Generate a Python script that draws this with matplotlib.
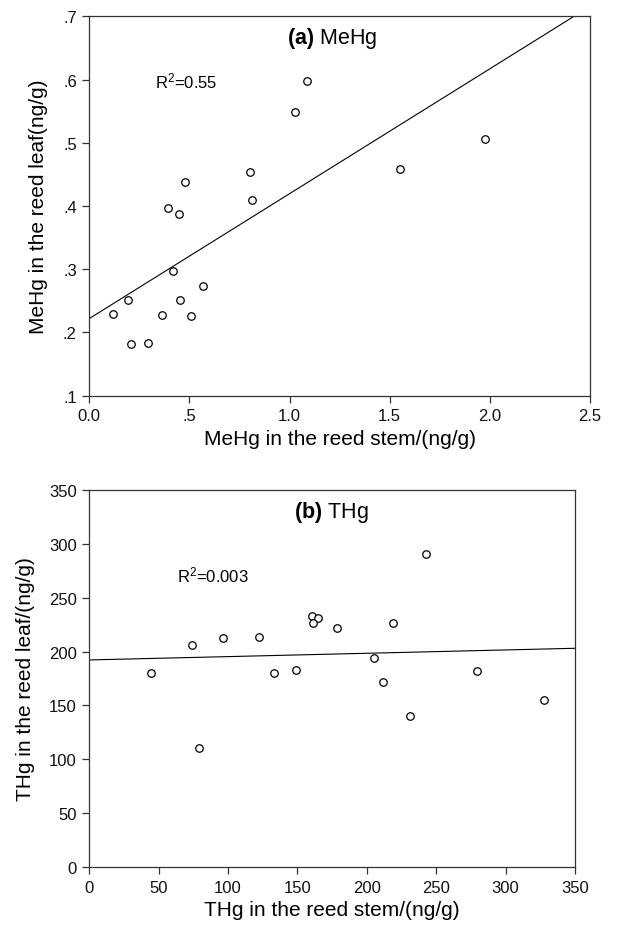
import matplotlib
matplotlib.use("Agg")
import matplotlib.pyplot as plt
import numpy as np

plt.rcParams['font.family'] = ['Liberation Sans', 'DejaVu Sans']
plt.rcParams['mathtext.fontset'] = 'custom'
plt.rcParams['mathtext.rm'] = 'Liberation Sans'
plt.rcParams['mathtext.it'] = 'Liberation Sans:italic'
plt.rcParams['mathtext.bf'] = 'Liberation Sans:bold'

# Panel (a) MeHg
mehg_stem = [0.118, 0.192, 0.207, 0.292, 0.363, 0.395, 0.418, 0.450, 0.452, 0.478,
             0.508, 0.567, 0.803, 0.812, 1.028, 1.088, 1.550, 1.978]
mehg_leaf = [0.229, 0.252, 0.182, 0.184, 0.228, 0.397, 0.297, 0.388, 0.251, 0.438,
             0.226, 0.274, 0.453, 0.410, 0.549, 0.597, 0.458, 0.506]
mehg_fit = (0.1975, 0.222)  # slope, intercept
mehg_xticks = [0.0, 0.5, 1.0, 1.5, 2.0, 2.5]
mehg_xticklabels = ["0.0", ".5", "1.0", "1.5", "2.0", "2.5"]
mehg_yticks = [0.1, 0.2, 0.3, 0.4, 0.5, 0.6, 0.7]
mehg_yticklabels = [".1", ".2", ".3", ".4", ".5", ".6", ".7"]

# Panel (b) THg
thg_stem = [44.7, 73.7, 79.0, 96.1, 122.5, 133.3, 149.2, 160.5, 164.5, 161.4,
            178.2, 204.9, 211.4, 218.6, 231.1, 242.6, 279.6, 327.6]
thg_leaf = [180.1, 206.4, 110.3, 212.2, 213.2, 180.1, 183.2, 233.2, 231.4, 226.4,
            221.8, 194.3, 172.1, 226.1, 140.3, 290.7, 181.6, 154.8]
thg_fit = (0.0309, 192.2)
thg_ticks = [0, 50, 100, 150, 200, 250, 300, 350]

W, H = 630, 929
fig = plt.figure(figsize=(W / 100, H / 100), dpi=100)

def box(l, r, t, b):
    return [l / W, 1 - b / H, (r - l) / W, (b - t) / H]

ax1 = fig.add_axes(box(89.3, 590, 17.3, 396.7))
ax2 = fig.add_axes(box(89.3, 575, 490.7, 868.3))

AX = '#333333'

def style(ax):
    for s in ax.spines.values():
        s.set_linewidth(0.9)
        s.set_color(AX)
    ax.tick_params(direction='out', length=5, width=0.9, labelsize=12,
                   top=False, right=False, pad=4, color=AX, labelcolor='#111111')

# (a)
ax1.plot(mehg_stem, mehg_leaf, 'o', mfc='white', mec='black', ms=5.4, mew=0.9)
xa = np.array([0.0, 2.5])
ax1.plot(xa, mehg_fit[0] * xa + mehg_fit[1], color='black', lw=0.8)
ax1.set_xlim(0, 2.5)
ax1.set_ylim(0.1, 0.7)
ax1.set_xticks(mehg_xticks)
ax1.set_xticklabels(mehg_xticklabels)
ax1.set_yticks(mehg_yticks)
ax1.set_yticklabels(mehg_yticklabels)
style(ax1)
ax1.set_xlabel("MeHg in the reed stem/(ng/g)", fontsize=15, labelpad=4)
ax1.set_ylabel("MeHg in the reed leaf(ng/g)", fontsize=15, labelpad=11)
ax1.text(1.21, 0.667, r"$\mathbf{(a)}$ MeHg", ha='center', va='center', fontsize=15.5)
ax1.text(0.33, 0.598, r"R$^2$=0.55", ha='left', va='center', fontsize=12)

# (b)
ax2.plot(thg_stem, thg_leaf, 'o', mfc='white', mec='black', ms=5.4, mew=0.9)
xb = np.array([0.0, 350.0])
ax2.plot(xb, thg_fit[0] * xb + thg_fit[1], color='black', lw=0.8)
ax2.set_xlim(0, 350)
ax2.set_ylim(0, 350)
ax2.set_xticks(thg_ticks)
ax2.set_yticks(thg_ticks)
style(ax2)
ax2.set_xlabel("THg in the reed stem/(ng/g)", fontsize=15, labelpad=4)
ax2.set_ylabel("THg in the reed leaf/(ng/g)", fontsize=15, labelpad=10)
ax2.text(174.6, 329.6, r"$\mathbf{(b)}$ THg", ha='center', va='center', fontsize=15.5)
ax2.text(63, 271, r"R$^2$=0.003", ha='left', va='center', fontsize=12)

fig.savefig("out.png", dpi=100)
